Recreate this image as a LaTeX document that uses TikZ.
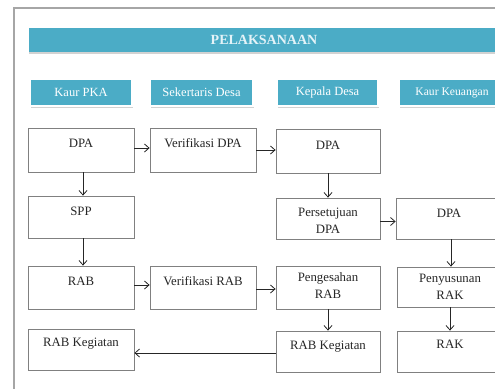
\documentclass[tikz,border=0pt]{standalone}
\usepackage{fontspec}
\setmainfont{Liberation Serif}
\usetikzlibrary{arrows.meta,shadows}
\definecolor{hdr}{HTML}{4BACC6}
\definecolor{boxline}{HTML}{808080}
\definecolor{frameline}{HTML}{A6A6A6}
\definecolor{ink}{HTML}{262626}
\definecolor{titletext}{HTML}{E4F3F8}
\tikzset{
  box/.style={draw=boxline, line width=0.8pt, fill=white, inner sep=0pt},
  txt/.style={anchor=north, inner sep=0pt, align=center, text=ink,
              font=\fontsize{12.8}{17}\selectfont},
  hdrbox/.style={fill=hdr, draw=white, line width=1.2pt, text=white, inner sep=0pt,
                 minimum height=27pt,
                 drop shadow={shadow xshift=0.8pt, shadow yshift=-1.5pt, opacity=0.35},
                 font=\fontsize{12.5}{15}\selectfont},
  titlebar/.style={fill=hdr, draw=none, inner sep=0pt, minimum height=24pt,
                   minimum width=470pt, text=titletext,
                   drop shadow={shadow xshift=0pt, shadow yshift=-2pt, opacity=0.35},
                   font=\fontsize{14}{16}\selectfont\bfseries},
  conn/.style={draw=ink, line width=0.8pt, -{Straight Barb[length=4.5pt,width=8pt]}}
}
\begin{document}
\begin{tikzpicture}[x=1pt,y=-1pt]
\clip (0,0) rectangle (495,388);
\fill[white] (0,0) rectangle (495,388);
% outer frame
\draw[frameline, line width=1.5pt] (14,8) rectangle (530,420);
% title
\node[titlebar] (title) at (264,40) {PELAKSANAAN};
% headers
\node[hdrbox, minimum width=102pt] (hA) at (81,92.5) {Kaur PKA};
\node[hdrbox, minimum width=103pt] (hB) at (201.5,92.5) {Sekertaris Desa};
\node[hdrbox, minimum width=101pt] (hC) at (327.5,92.5) {Kepala Desa};
\node[hdrbox, minimum width=106pt, font=\fontsize{11.6}{14}\selectfont] (hD) at (452,92.5) {Kaur Keuangan};
% row 1
\node[box, minimum width=106pt, minimum height=44pt,
      label={[txt, yshift=-8.1pt]north:\strut DPA}] (dpaA) at (81,150) {};
\node[box, minimum width=106pt, minimum height=44pt,
      label={[txt, yshift=-8.1pt]north:\strut Verifikasi DPA}] (verdpa) at (203,150) {};
\node[box, minimum width=104pt, minimum height=44pt,
      label={[txt, yshift=-8.6pt]north:\strut DPA}] (dpaC) at (328,151) {};
% row 2
\node[box, minimum width=106pt, minimum height=42pt,
      label={[txt, yshift=-8.1pt]north:\strut SPP}] (spp) at (81,217) {};
\node[box, minimum width=104pt, minimum height=41pt,
      label={[txt, yshift=-6.6pt]north:\strut Persetujuan\\DPA}] (pers) at (328,218.5) {};
\node[box, minimum width=106pt, minimum height=41pt,
      label={[txt, yshift=-7.6pt]north:\strut DPA}] (dpaD) at (449,218.5) {};
% row 3
\node[box, minimum width=106pt, minimum height=43pt,
      label={[txt, yshift=-8.1pt]north:\strut RAB}] (rab) at (81,287.5) {};
\node[box, minimum width=106pt, minimum height=43pt,
      label={[txt, yshift=-8.1pt]north:\strut Verifikasi RAB}] (verrab) at (203,287.5) {};
\node[box, minimum width=104pt, minimum height=43pt,
      label={[txt, yshift=-4.1pt]north:\strut Pengesahan\\RAB}] (peng) at (328,287.5) {};
\node[box, minimum width=106pt, minimum height=40pt,
      label={[txt, yshift=-4.1pt]north:\strut Penyusunan\\RAK}] (peny) at (450,287) {};
% row 4
\node[box, minimum width=106pt, minimum height=41pt,
      label={[txt, yshift=-6.1pt]north:\strut RAB Kegiatan}] (rkA) at (81,349.5) {};
\node[box, minimum width=104pt, minimum height=41pt,
      label={[txt, yshift=-6.6pt]north:\strut RAB Kegiatan}] (rkC) at (328,351.5) {};
\node[box, minimum width=106pt, minimum height=41pt,
      label={[txt, yshift=-6.1pt]north:\strut RAK}] (rak) at (450,351.5) {};
% connectors
\draw[conn] ([yshift=2pt]dpaA.east) -- ([yshift=2pt]dpaA.east -| verdpa.west);
\draw[conn] (verdpa.east) -- (verdpa.east -| dpaC.west);
\draw[conn] ([xshift=2pt]dpaA.south) -- ([xshift=2pt]dpaA.south |- spp.north);
\draw[conn] ([xshift=2pt]spp.south) -- ([xshift=2pt]spp.south |- rab.north);
\draw[conn] (dpaC.south) -- (dpaC.south |- pers.north);
\draw[conn] ([yshift=-3pt]pers.east) -- ([yshift=-3pt]pers.east -| dpaD.west);
\draw[conn] ([xshift=2pt]dpaD.south) -- ([xshift=2pt]dpaD.south |- peny.north);
\draw[conn] (peny.south) -- (peny.south |- rak.north);
\draw[conn] ([yshift=2.5pt]rab.east) -- ([yshift=2.5pt]rab.east -| verrab.west);
\draw[conn] ([yshift=-1.5pt]verrab.east) -- ([yshift=-1.5pt]verrab.east -| peng.west);
\draw[conn] (peng.south) -- (peng.south |- rkC.north);
\draw[conn] ([yshift=-1.5pt]rkC.west) -- ([yshift=-1.5pt]rkC.west -| rkA.east);
\end{tikzpicture}
\end{document}
